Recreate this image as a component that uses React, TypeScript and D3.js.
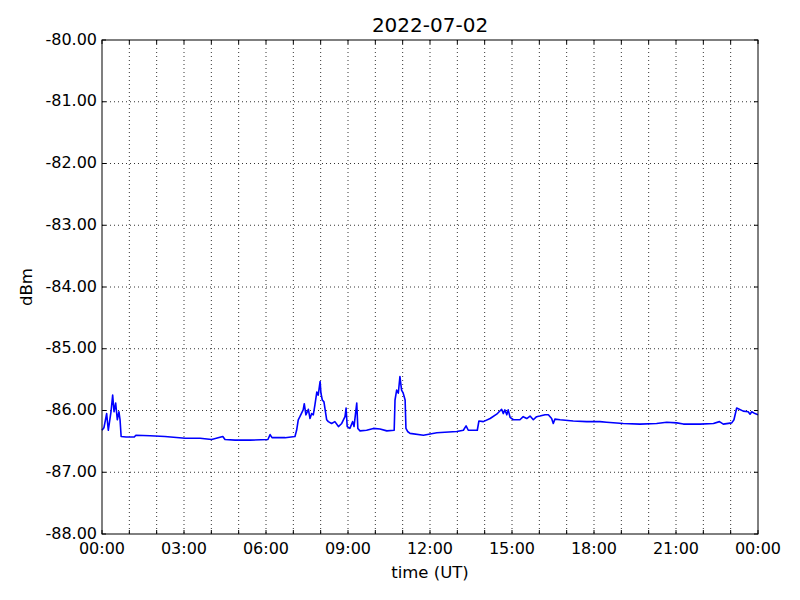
import React from "react";
import * as d3 from "d3";

// hours since 2022-07-02 00:00 UT
const hours = [
  0, 0.07, 0.17, 0.23, 0.33, 0.39, 0.44, 0.5, 0.56, 0.62, 0.66, 0.7, 0.88, 1.18, 1.24, 1.76, 2.3,
  3.04, 3.59, 4.01, 4.42, 4.5, 4.87, 5.41, 6.07, 6.15, 6.22, 6.7, 7.06, 7.12, 7.18, 7.24, 7.36,
  7.4, 7.46, 7.55, 7.61, 7.67, 7.73, 7.79, 7.86, 7.91, 7.98, 8.01, 8.06, 8.12, 8.22, 8.28, 8.4,
  8.52, 8.65, 8.77, 8.89, 8.93, 8.97, 9.07, 9.17, 9.22, 9.32, 9.36, 9.44, 9.68, 9.93, 10.17,
  10.42, 10.69, 10.72, 10.78, 10.84, 10.9, 10.96, 11.02, 11.09, 11.12, 11.18, 11.27, 11.76,
  12.25, 12.98, 13.22, 13.32, 13.4, 13.73, 13.79, 13.95, 14.2, 14.44, 14.62, 14.68, 14.74,
  14.81, 14.86, 14.93, 15.05, 15.29, 15.41, 15.54, 15.66, 15.78, 15.9, 16.02, 16.21, 16.33,
  16.45, 16.51, 16.57, 16.76, 17.24, 17.73, 18.22, 18.46, 19.07, 19.68, 20.29, 20.66, 21.03,
  21.27, 21.88, 22.37, 22.59, 22.73, 23.04, 23.12, 23.22, 23.46, 23.64, 23.71, 23.77, 23.89, 24,
];

const dbm = [
  -86.32, -86.28, -86.05, -86.32, -86.02, -85.75, -86.02, -85.88, -86.15, -86.02, -86.15, -86.42,
  -86.43, -86.43, -86.4, -86.41, -86.42, -86.45, -86.45, -86.47, -86.42, -86.47, -86.48, -86.48,
  -86.47, -86.39, -86.44, -86.44, -86.42, -86.32, -86.15, -86.1, -85.99, -85.89, -86.07, -85.98,
  -86.13, -86.05, -86.07, -85.91, -85.7, -85.75, -85.53, -85.72, -85.83, -85.86, -86.15, -86.18,
  -86.21, -86.18, -86.26, -86.21, -86.1, -85.96, -86.26, -86.29, -86.18, -86.26, -85.88, -86.29,
  -86.33, -86.32, -86.29, -86.3, -86.33, -86.32, -85.83, -85.67, -85.72, -85.45, -85.67, -85.72,
  -85.83, -86.29, -86.34, -86.37, -86.4, -86.36, -86.34, -86.32, -86.25, -86.32, -86.32, -86.17,
  -86.18, -86.13, -86.06, -85.98, -86.05, -85.99, -86.07, -85.99, -86.11, -86.15, -86.15, -86.1,
  -86.13, -86.09, -86.15, -86.1, -86.09, -86.07, -86.07, -86.13, -86.21, -86.14, -86.15, -86.17,
  -86.18, -86.18, -86.19, -86.21, -86.22, -86.21, -86.19, -86.2, -86.22, -86.22, -86.21, -86.18,
  -86.22, -86.2, -86.15, -85.96, -86.01, -86.02, -86.06, -86.02, -86.05, -86.07,
];

const yTicks = [-80, -81, -82, -83, -84, -85, -86, -87, -88];
const title = "2022-07-02";

const W = 800;
const H = 600;
const margin = { top: 40, right: 42, bottom: 66, left: 102 };
const font = "'DejaVu Sans', sans-serif";

const App = () => {
  const start = new Date(Date.UTC(2022, 6, 2, 0, 0));
  const end = new Date(Date.UTC(2022, 6, 3, 0, 0));
  const x = d3.scaleUtc().domain([start, end]).range([margin.left, W - margin.right]);
  const y = d3.scaleLinear().domain([-88, -80]).range([H - margin.bottom, margin.top]);

  const pts = hours.map((h, i) => ({ t: new Date(start.getTime() + h * 3600000), v: dbm[i] }));
  const line = d3
    .line<{ t: Date; v: number }>()
    .x((d) => x(d.t))
    .y((d) => y(d.v));

  const hourTicks = x.ticks(d3.utcHour.every(1)!);
  const labelTicks = x.ticks(d3.utcHour.every(3)!);
  const fmt = d3.utcFormat("%H:%M");
  const [x0, x1] = x.range();
  const [y0, y1] = y.range();

  return (
    <svg width={W} height={H} style={{ position: "absolute", left: 0, top: 0, background: "#fff" }}>
      <rect x={0} y={0} width={W} height={H} fill="#fff" />
      {/* grid */}
      {hourTicks.slice(1, -1).map((t, i) => (
        <line key={"gx" + i} x1={x(t)} x2={x(t)} y1={y1} y2={y0} stroke="#000" strokeWidth={0.8} strokeDasharray="1,3" />
      ))}
      {yTicks.slice(1, -1).map((v, i) => (
        <line key={"gy" + i} x1={x0} x2={x1} y1={y(v)} y2={y(v)} stroke="#000" strokeWidth={0.8} strokeDasharray="1,3" />
      ))}
      {/* ticks inward on all sides */}
      {hourTicks.map((t, i) => (
        <g key={"tx" + i}>
          <line x1={x(t)} x2={x(t)} y1={y0} y2={y0 - 4} stroke="#000" />
          <line x1={x(t)} x2={x(t)} y1={y1} y2={y1 + 4} stroke="#000" />
        </g>
      ))}
      {yTicks.map((v, i) => (
        <g key={"ty" + i}>
          <line x1={x0} x2={x0 + 4} y1={y(v)} y2={y(v)} stroke="#000" />
          <line x1={x1} x2={x1 - 4} y1={y(v)} y2={y(v)} stroke="#000" />
        </g>
      ))}
      <path d={line(pts) || ""} fill="none" stroke="#0000ff" strokeWidth={1.6} strokeLinejoin="round" />
      <rect x={x0} y={y1} width={x1 - x0} height={y0 - y1} fill="none" stroke="#000" strokeWidth={1} />
      {/* labels */}
      {yTicks.map((v, i) => (
        <text key={"ly" + i} x={x0 - 5} y={y(v) - 1} dy="0.35em" textAnchor="end" fontFamily={font} fontSize={16}>
          {v.toFixed(2)}
        </text>
      ))}
      {labelTicks.map((t, i) => (
        <text key={"lx" + i} x={x(t)} y={y0 + 20} textAnchor="middle" fontFamily={font} fontSize={16}>
          {fmt(t)}
        </text>
      ))}
      <text x={(x0 + x1) / 2} y={32} textAnchor="middle" fontFamily={font} fontSize={20}>
        {title}
      </text>
      <text x={(x0 + x1) / 2} y={578} textAnchor="middle" fontFamily={font} fontSize={16.5}>
        time (UT)
      </text>
      <text
        transform={`translate(32,${(y0 + y1) / 2}) rotate(-90)`}
        textAnchor="middle"
        fontFamily={font}
        fontSize={16.5}
      >
        dBm
      </text>
    </svg>
  );
};

export default App;
